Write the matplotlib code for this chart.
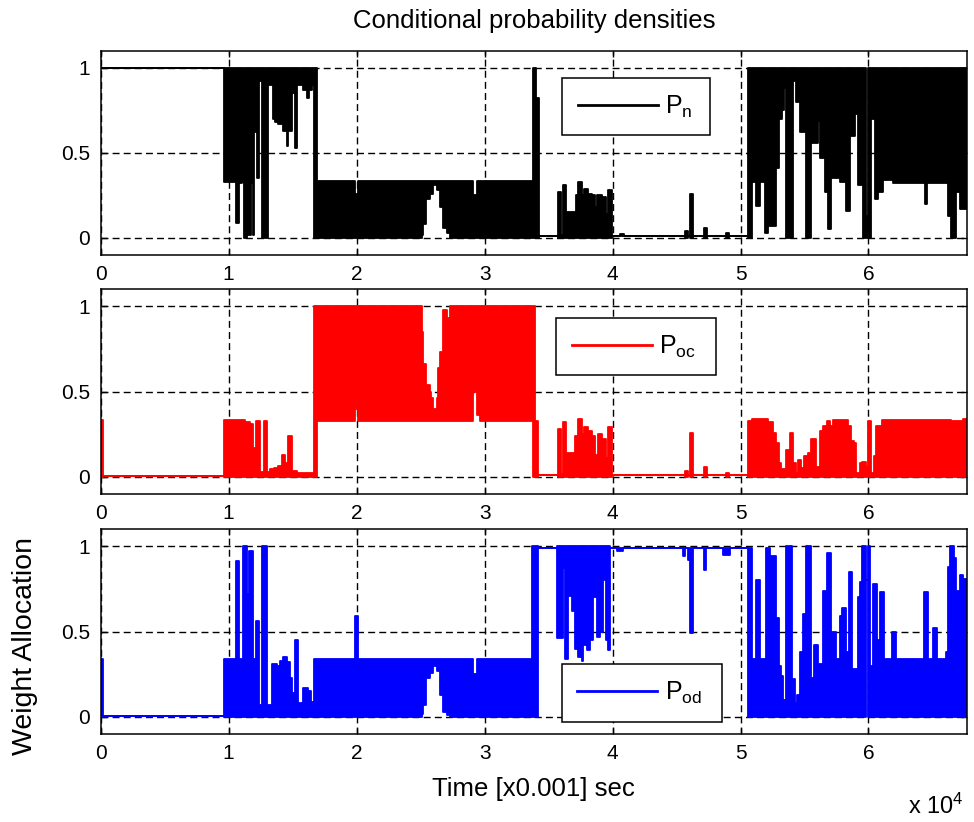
import numpy as np
import matplotlib.pyplot as plt
from matplotlib.lines import Line2D

plt.rcParams['font.family'] = ['Liberation Sans', 'DejaVu Sans']
plt.rcParams['mathtext.fontset'] = 'custom'
plt.rcParams['mathtext.rm'] = 'Liberation Sans'
plt.rcParams['mathtext.it'] = 'Liberation Sans:italic'

# each row: (time, lower envelope, upper envelope), held until the next row
pn = [(0, 1, 1), (9600, 0.33, 1), (10550, 0.09, 1), (10800, 0.32, 1), (11010, 0.33, 1),
      (11220, 0.0, 1), (11400, 0.29, 1), (11530, 0.02, 1), (11740, 0.32, 1), (11920, 0.02, 1),
      (12000, 0.62, 1), (12190, 0.35, 1), (12390, 0.92, 1), (12580, 0.0, 1), (13040, 0.90, 1),
      (13490, 0.70, 1), (13620, 0.68, 1), (13880, 0.67, 1), (14270, 0.63, 1), (14530, 0.54, 1),
      (14660, 0.63, 1), (14920, 0.85, 1), (15180, 0.53, 1), (15310, 0.90, 1), (15830, 0.87, 1),
      (16090, 0.82, 1), (16270, 0.87, 1), (16480, 0.90, 1), (16640, 0.0, 1),
      (16870, 0, 0.335), (19870, 0, 0.26), (20070, 0, 0.335), (25070, 0.02, 0.335),
      (25200, 0.08, 0.335), (25460, 0.23, 0.335), (25720, 0.26, 0.335), (25990, 0.31, 0.335),
      (26250, 0.28, 0.335), (26510, 0.18, 0.335), (26770, 0.06, 0.335), (27030, 0.03, 0.335),
      (27290, 0, 0.335), (29110, 0, 0.25), (29370, 0, 0.335),
      (33750, 0, 1), (34010, 0, 0.82), (34270, 0.01, 0.01),
      (35750, 0, 0.27), (35940, 0, 0.02), (36150, 0, 0.31), (36350, 0, 0.15), (37130, 0, 0.25),
      (37320, 0, 0.33), (37580, 0, 0.25), (37760, 0, 0.29), (38100, 0, 0.26), (38360, 0, 0.25),
      (38620, 0, 0.18), (38800, 0, 0.25), (39140, 0, 0.24), (39480, 0, 0.14), (39660, 0, 0.28),
      (39920, 0.01, 0.01), (40570, 0.01, 0.025), (40880, 0.01, 0.01), (45650, 0, 0.04),
      (45910, 0.01, 0.01), (46040, 0, 0.26), (46300, 0.01, 0.01), (47160, 0, 0.06),
      (47390, 0.01, 0.01), (48900, 0, 0.03), (49110, 0.01, 0.01),
      (50600, 0, 1), (50860, 0.33, 1), (51250, 0.19, 1), (51510, 0.33, 1), (51900, 0.03, 1),
      (52160, 0.07, 1), (52810, 0.41, 1), (53020, 0.70, 1), (53230, 0.75, 1), (53380, 0.88, 1),
      (53540, 0, 1), (54110, 0.92, 1), (54320, 0.80, 1), (54630, 0.62, 1), (55100, 0, 1),
      (55540, 0.56, 1), (56060, 0.69, 1), (56190, 0.47, 1), (56590, 0.27, 1), (56850, 0.05, 1),
      (57110, 0.35, 1), (57760, 0.33, 1), (58280, 0.16, 1), (58540, 0.60, 1), (58930, 0.73, 1),
      (59190, 0.31, 1), (59580, 0, 1), (59790, 0, 0.13), (59940, 0, 1), (60230, 0.70, 1),
      (60490, 0.23, 1), (60750, 0.27, 1), (61140, 0.34, 1), (61920, 0.32, 1), (64400, 0.20, 1),
      (64580, 0.32, 1), (66220, 0.13, 1), (66480, 0, 1), (66870, 0.27, 1), (67130, 0.17, 1),
      (67700, 0.17, 1)]

poc = [(0, 0, 0.335), (150, 0.005, 0.005), (9660, 0, 0.335), (11270, 0, 0.32), (11660, 0, 0.31),
       (11920, 0, 0.17), (12110, 0, 0.33), (12440, 0, 0.03), (12760, 0, 0.33), (13020, 0, 0.03),
       (13230, 0, 0.045), (13540, 0, 0.055), (13880, 0, 0.065), (14140, 0, 0.13), (14400, 0, 0.08),
       (14660, 0, 0.24), (14920, 0, 0.035), (15310, 0, 0.025),
       (16660, 0, 1), (16870, 0.33, 1), (19870, 0.40, 1), (20130, 0.33, 1), (25070, 0.33, 0.85),
       (25200, 0.33, 0.66), (25460, 0.33, 0.54), (25720, 0.33, 0.50), (25850, 0.33, 0.46),
       (25990, 0.33, 0.40), (26250, 0.33, 0.46), (26380, 0.33, 0.64), (26510, 0.33, 0.73),
       (26770, 0.33, 0.98), (27030, 0.33, 0.93), (27290, 0.33, 1), (29110, 0.50, 1),
       (29370, 0.36, 1), (29630, 0.33, 1),
       (33750, 0, 1), (33930, 0, 0.33), (34190, 0.01, 0.01),
       (35750, 0, 0.28), (35940, 0, 0.02), (36150, 0, 0.32), (36330, 0, 0.14), (37060, 0, 0.24),
       (37320, 0, 0.34), (37580, 0, 0.25), (37760, 0, 0.29), (38100, 0, 0.27), (38360, 0, 0.24),
       (38620, 0, 0.13), (38880, 0, 0.25), (39140, 0, 0.22), (39480, 0, 0.11), (39660, 0, 0.29),
       (39920, 0.01, 0.01), (45650, 0, 0.035), (45910, 0.01, 0.01), (46040, 0, 0.26),
       (46300, 0.01, 0.01), (47160, 0, 0.06), (47390, 0.01, 0.01), (48900, 0, 0.025),
       (49110, 0.01, 0.01),
       (50600, 0, 0.33), (50860, 0, 0.34), (52160, 0, 0.32), (52550, 0, 0.26), (52760, 0, 0.20),
       (53020, 0, 0.08), (53200, 0, 0.045), (53460, 0, 0.016), (53590, 0, 0.16), (53850, 0, 0.26),
       (54110, 0, 0.08), (54320, 0, 0.025), (54500, 0, 0.10), (54760, 0, 0.055), (54940, 0, 0.12),
       (55280, 0, 0.14), (55540, 0, 0.22), (55880, 0, 0.06), (56190, 0, 0.27), (56455, 0, 0.30),
       (56770, 0, 0.33), (56980, 0, 0.30), (57240, 0, 0.336), (58410, 0, 0.30), (58620, 0, 0.21),
       (58880, 0, 0.20), (59060, 0, 0.025), (59320, 0, 0.08), (59530, 0, 0.09), (59790, 0, 0.06),
       (59970, 0, 0.33), (60230, 0, 0.025), (60440, 0, 0.12), (60620, 0, 0.30), (61070, 0, 0.336),
       (66480, 0, 0.325), (67390, 0, 0.34), (67700, 0, 0.34)]

pod = [(0, 0, 0.34), (150, 0.005, 0.005), (9660, 0, 0.34), (10540, 0, 0.91), (10800, 0, 0.34),
       (11140, 0, 1.0), (11450, 0, 0.72), (11610, 0, 0.97), (11920, 0, 0.34), (12110, 0, 0.56),
       (12370, 0, 0.07), (12570, 0, 1.0), (12970, 0, 0.07), (13360, 0, 0.31), (13750, 0, 0.30),
       (14010, 0, 0.33), (14270, 0, 0.35), (14530, 0, 0.32), (14790, 0, 0.23), (14970, 0, 0.14),
       (15180, 0, 0.45), (15440, 0, 0.08), (15830, 0, 0.17), (16220, 0, 0.15), (16400, 0, 0.09),
       (16660, 0, 0.34), (19870, 0, 0.59), (20070, 0, 0.34), (25070, 0.02, 0.34),
       (25200, 0.07, 0.34), (25460, 0.23, 0.34), (25720, 0.26, 0.34), (25990, 0.30, 0.34),
       (26250, 0.27, 0.34), (26510, 0.13, 0.34), (26770, 0.03, 0.34), (27030, 0.01, 0.34),
       (27290, 0, 0.34), (29110, 0, 0.25), (29370, 0, 0.34),
       (33670, 0, 1.0), (34190, 0.99, 0.99), (35680, 0.46, 1), (36090, 0.87, 1), (36280, 0.34, 1),
       (36540, 0.71, 1), (36800, 0.62, 1), (37060, 0.40, 1), (37320, 0.35, 1), (37580, 0.33, 1),
       (37710, 0.42, 1), (37970, 0.39, 1), (38230, 0.45, 1), (38490, 0.70, 1), (38750, 0.47, 1),
       (39010, 0.50, 1), (39270, 0.80, 1), (39480, 0.45, 1), (39660, 0.39, 1),
       (39840, 0.99, 0.99), (40310, 0.97, 0.99), (40830, 0.99, 0.99), (45520, 0.94, 0.99),
       (45700, 0.99, 0.99), (45860, 0.92, 0.99), (46040, 0.49, 0.99), (46300, 0.99, 0.99),
       (47130, 0.86, 0.99), (47340, 0.99, 0.99), (48640, 0.95, 0.99), (49170, 0.99, 0.99),
       (50600, 0, 0.99), (50860, 0, 0.34), (51200, 0, 0.80), (51510, 0, 0.34), (51980, 0, 0.99),
       (52290, 0, 0.94), (52810, 0, 0.58), (53020, 0, 0.30), (53200, 0, 0.24), (53330, 0, 0.10),
       (53540, 0, 1.0), (54060, 0, 0.22), (54240, 0, 0.08), (54420, 0, 0.13), (54630, 0, 0.38),
       (54890, 0, 0.60), (55100, 0, 1.0), (55540, 0, 0.23), (55730, 0, 0.42), (56060, 0, 0.31),
       (56455, 0, 0.74), (56770, 0, 0.96), (57110, 0, 0.50), (57500, 0, 0.34), (57760, 0, 0.59),
       (57965, 0, 0.64), (58280, 0, 0.38), (58490, 0, 0.85), (58750, 0, 0.28), (59190, 0, 0.70),
       (59370, 0, 0.79), (59530, 0, 1.0), (59790, 0.80, 0.80), (59970, 0, 1.0), (60150, 0, 0.30),
       (60360, 0, 0.78), (60670, 0, 0.45), (60880, 0, 0.73), (61190, 0, 0.34), (61870, 0, 0.50),
       (62130, 0, 0.34), (64320, 0, 0.73), (64660, 0, 0.34), (65050, 0, 0.52), (65360, 0, 0.34),
       (66040, 0, 0.38), (66220, 0, 0.88), (66400, 0, 1.0), (66660, 0, 0.93), (66870, 0, 0.74),
       (67130, 0, 0.83), (67390, 0, 0.81), (67700, 0, 0.81)]

series = [pn, poc, pod]
colors = ['k', '#ff0000', '#0000ff']
labels = [r'P$_{\rm n}$', r'P$_{\rm oc}$', r'P$_{\rm od}$']
xticks = [0, 10000, 20000, 30000, 40000, 50000, 60000]
xticklabels = ['0', '1', '2', '3', '4', '5', '6']
yticks = [0, 0.5, 1]
yticklabels = ['0', '0.5', '1']

rects = [[0.1034, 0.6898, 0.8894, 0.2485],
         [0.1034, 0.3990, 0.8894, 0.2494],
         [0.1034, 0.1070, 0.8894, 0.2494]]
# legend boxes in axes coords (x0, y0, w, h)
legboxes = [(0.5325, 0.578, 0.1705, 0.298),
            (0.5256, 0.571, 0.1844, 0.294),
            (0.5320, 0.054, 0.1847, 0.292)]

fig = plt.figure(figsize=(9.74, 8.22), dpi=100)
axes = []
for i in range(3):
    ax = fig.add_axes(rects[i])
    t, lo, hi = np.array(series[i], dtype=float).T
    c = colors[i]
    ax.fill_between(t, lo, hi, step='post', color=c, lw=0)
    ax.step(t, lo, where='post', color=c, lw=1.3)
    ax.step(t, hi, where='post', color=c, lw=1.3)
    ax.set_xlim(0, 67700)
    ax.set_ylim(-0.1, 1.1)
    ax.set_xticks(xticks)
    ax.set_xticklabels(xticklabels)
    ax.set_yticks(yticks)
    ax.set_yticklabels(yticklabels)
    ax.tick_params(direction='in', top=True, right=True, length=4, width=1,
                   labelsize=15, pad=7.5)
    ax.grid(True, color='k', linestyle=(0, (5, 3)), linewidth=1)
    ax.set_axisbelow(True)
    for s in ax.spines.values():
        s.set_linewidth(1.1)
    proxy = Line2D([], [], color=c, lw=2)
    leg = ax.legend([proxy], [labels[i]], loc='center', bbox_to_anchor=legboxes[i],
                    mode='expand', fontsize=18, handlelength=3.2, handletextpad=0.3,
                    borderpad=0.62, borderaxespad=0, fancybox=False, framealpha=1,
                    edgecolor='k')
    leg.get_frame().set_linewidth(1.1)
    axes.append(ax)

axes[0].set_title('Conditional probability densities', fontsize=18.5, pad=16)
axes[2].set_xlabel('Time [x0.001] sec', fontsize=18.5, labelpad=10)
axes[2].set_ylabel('Weight Allocation', fontsize=20.5)
axes[2].yaxis.set_label_coords(-0.072, 0.43)
fig.text(908 / 974, 1 - 806 / 822, r'x 10$^{4}$', fontsize=17, va='center')

fig.savefig('out.png', dpi=100)
